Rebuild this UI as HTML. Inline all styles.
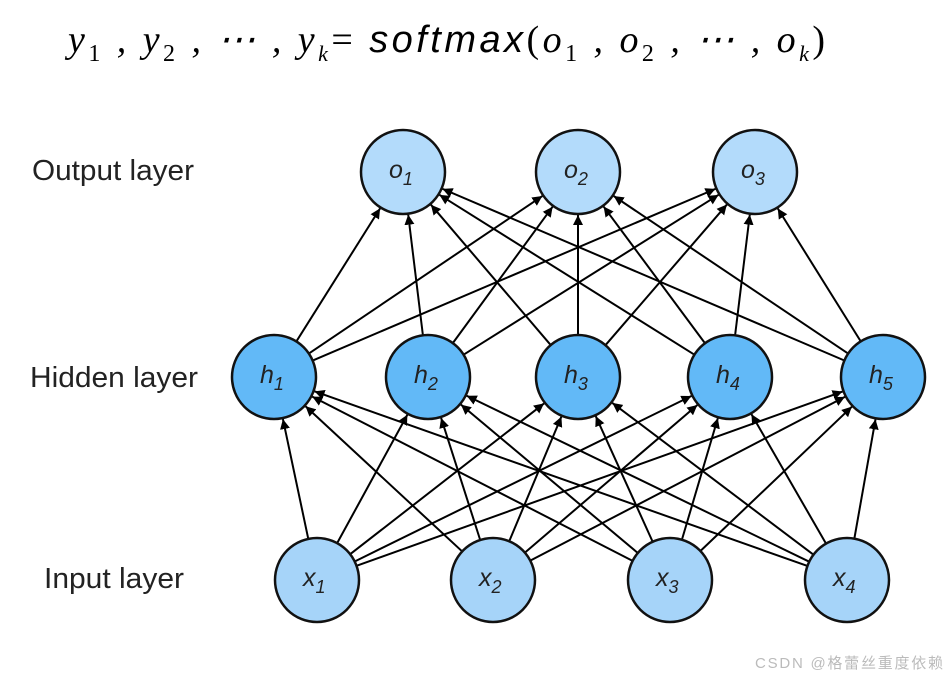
<!DOCTYPE html>
<html><head><style>
body{margin:0;background:#fff;width:948px;height:678px;overflow:hidden}
</style></head><body>
<svg width="948" height="678" xmlns="http://www.w3.org/2000/svg">
<defs><marker id="a" viewBox="0 0 10 10" refX="10" refY="5" markerWidth="10" markerHeight="10" orient="auto" markerUnits="userSpaceOnUse"><path d="M0,0L10,5L0,10z" fill="#000"/></marker></defs>
<text x="68" y="52" font-family="Liberation Serif, serif" font-style="italic" font-size="38" fill="#000" textLength="757" lengthAdjust="spacing">y<tspan font-size="24" dy="9" font-style="normal">1</tspan><tspan dy="-9"> , y</tspan><tspan font-size="24" dy="9" font-style="normal">2</tspan><tspan dy="-9"> , ⋯ , y</tspan><tspan font-size="22" dy="9">k</tspan><tspan dy="-9" font-style="normal">= </tspan><tspan font-family="Liberation Sans, sans-serif">softmax</tspan><tspan font-style="normal">(</tspan>o<tspan font-size="24" dy="9" font-style="normal">1</tspan><tspan dy="-9"> , o</tspan><tspan font-size="24" dy="9" font-style="normal">2</tspan><tspan dy="-9"> , ⋯ , o</tspan><tspan font-size="22" dy="9">k</tspan><tspan dy="-9" font-style="normal">)</tspan></text>
<g font-family="Liberation Sans, sans-serif" font-size="29" fill="#222">
<text x="32" y="180" textLength="162" lengthAdjust="spacingAndGlyphs">Output layer</text>
<text x="30" y="387" textLength="168" lengthAdjust="spacingAndGlyphs">Hidden layer</text>
<text x="44" y="588" textLength="140" lengthAdjust="spacingAndGlyphs">Input layer</text>
</g>
<g id="edges" stroke="#000" stroke-width="2" marker-end="url(#a)"></g>
<g id="nodes" font-family="Liberation Sans, sans-serif" font-style="italic" font-size="25" fill="#222"></g>
<script>
var O=[[403,172],[578,172],[755,172]],H=[[274,377],[428,377],[578,377],[730,377],[883,377]],I=[[317,580],[493,580],[670,580],[847,580]],R=42;
var e=document.getElementById('edges'),n=document.getElementById('nodes'),NS='http://www.w3.org/2000/svg';
function ln(a,b){var dx=b[0]-a[0],dy=b[1]-a[1],d=Math.hypot(dx,dy),l=document.createElementNS(NS,'line');
l.setAttribute('x1',a[0]+dx/d*R);l.setAttribute('y1',a[1]+dy/d*R);l.setAttribute('x2',b[0]-dx/d*(R+1));l.setAttribute('y2',b[1]-dy/d*(R+1));e.appendChild(l);}
I.forEach(a=>H.forEach(b=>ln(a,b)));H.forEach(a=>O.forEach(b=>ln(a,b)));
function nd(p,fill,lab,sub){var c=document.createElementNS(NS,'circle');c.setAttribute('cx',p[0]);c.setAttribute('cy',p[1]);c.setAttribute('r',R);c.setAttribute('fill',fill);c.setAttribute('stroke','#111');c.setAttribute('stroke-width','2.5');n.appendChild(c);
var t=document.createElementNS(NS,'text');t.setAttribute('x',p[0]-14);t.setAttribute('y',p[1]+6);t.appendChild(document.createTextNode(lab));
var s=document.createElementNS(NS,'tspan');s.setAttribute('font-size','18');s.setAttribute('dy','7');s.appendChild(document.createTextNode(String(sub)));t.appendChild(s);n.appendChild(t);}
O.forEach((p,i)=>nd(p,'#b3dbfb','o',i+1));H.forEach((p,i)=>nd(p,'#62b9f7','h',i+1));I.forEach((p,i)=>nd(p,'#a6d4f9','x',i+1));
</script>
<text x="755" y="668" font-family="Liberation Sans, 'Noto Sans CJK SC', sans-serif" font-size="15" fill="#bbb" textLength="188">CSDN @格蕾丝重度依赖</text>
</svg>
</body></html>
